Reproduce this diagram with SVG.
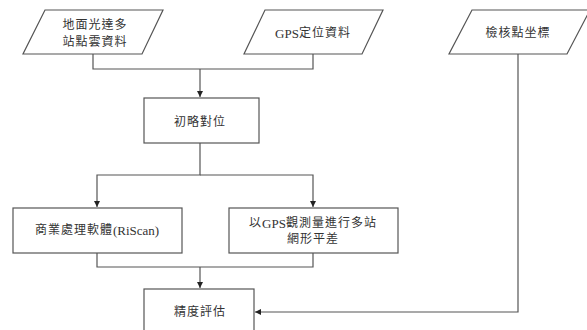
<svg xmlns="http://www.w3.org/2000/svg" width="587" height="330" viewBox="0 0 587 330">
<style>
.s{fill:#fff;stroke:#555;stroke-width:1.2}
.c{fill:none;stroke:#555;stroke-width:1.2}
text{font-family:"Liberation Serif","Noto Sans CJK TC",serif;font-size:12px;fill:#333;text-anchor:middle;dominant-baseline:central;letter-spacing:1px}
.l{letter-spacing:0;font-size:13px}
</style>
<defs>
<marker id="a" viewBox="0 0 8 8" refX="8" refY="4" markerWidth="6" markerHeight="6" orient="auto" markerUnits="userSpaceOnUse">
<path d="M0,0 L8,4 L0,8 Z" fill="#222"/>
</marker>
</defs>
<rect width="587" height="330" fill="#fff"/>
<g id="connectors">
<path class="c" d="M93,54 V69 H313 V54"/>
<path class="c" d="M200,69 V97" marker-end="url(#a)"/>
<path class="c" d="M200,143 V175 H97 V207" marker-end="url(#a)"/>
<path class="c" d="M200,175 H313 V207" marker-end="url(#a)"/>
<path class="c" d="M97,253 V267 H313 V253"/>
<path class="c" d="M200,267 V288" marker-end="url(#a)"/>
<path class="c" d="M518,54 V312 H255" marker-end="url(#a)"/>
</g>
<g id="n1">
<polygon class="s" points="45,10 163,10 142,54 23,54"/>
<text x="95" y="25">地面光達多</text>
<text x="95" y="42">站點雲資料</text>
</g>
<g id="n2">
<polygon class="s" points="265,10 383,10 362,54 244,54"/>
<text x="313" y="33"><tspan class="l">GPS</tspan>定位資料</text>
</g>
<g id="n3">
<polygon class="s" points="472,10 590,10 567,54 449,54"/>
<text x="518" y="33">檢核點坐標</text>
</g>
<g id="n4">
<rect class="s" x="144" y="98" width="115" height="45"/>
<text x="200" y="122">初略對位</text>
</g>
<g id="n5">
<rect class="s" x="13" y="208" width="169" height="45"/>
<text x="97" y="230">商業處理軟體<tspan class="l">(RiScan)</tspan></text>
</g>
<g id="n6">
<rect class="s" x="229" y="208" width="169" height="45"/>
<text x="313" y="223">以<tspan class="l">GPS</tspan>觀測量進行多站</text>
<text x="313" y="239">網形平差</text>
</g>
<g id="n7">
<rect class="s" x="144" y="289" width="110" height="50"/>
<text x="200" y="312">精度評估</text>
</g>
</svg>
